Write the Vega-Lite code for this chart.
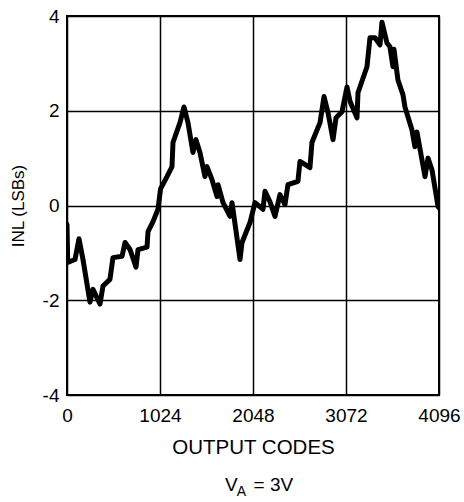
{
  "$schema": "https://vega.github.io/schema/vega-lite/v6.json",
  "width": 372,
  "height": 379,
  "autosize": {"type": "none"},
  "padding": {"left": 67, "top": 16, "right": 25, "bottom": 107},
  "background": "white",
  "config": {
    "font": "Liberation Sans",
    "view": {"stroke": "black", "strokeWidth": 2},
    "axis": {
      "domain": false,
      "ticks": false,
      "grid": true,
      "gridColor": "black",
      "gridWidth": 1.5,
      "gridOpacity": 1,
      "labelFont": "Liberation Sans",
      "labelFontSize": 19,
      "labelColor": "black",
      "titleFont": "Liberation Sans",
      "titleFontWeight": "normal",
      "titleColor": "black"
    }
  },
  "title": {
    "text": "V\u00a0\u00a0\u00a0= 3V",
    "subtitle": "\u200b\u00a0\u00a0\u00a0A",
    "orient": "bottom",
    "anchor": "start",
    "frame": "group",
    "dx": 158,
    "offset": 18,
    "font": "Liberation Sans",
    "fontSize": 19,
    "fontWeight": "normal",
    "color": "black",
    "subtitleFont": "Liberation Sans",
    "subtitleFontSize": 14,
    "subtitleColor": "black",
    "subtitlePadding": -10
  },
  "data": {
    "values": [
      {"code": 0, "inl": -0.4},
      {"code": 8, "inl": -1.2},
      {"code": 88, "inl": -1.14},
      {"code": 132, "inl": -0.7},
      {"code": 176, "inl": -1.14},
      {"code": 253, "inl": -2.04},
      {"code": 286, "inl": -1.77},
      {"code": 363, "inl": -2.08},
      {"code": 396, "inl": -1.7},
      {"code": 473, "inl": -1.56},
      {"code": 506, "inl": -1.1},
      {"code": 606, "inl": -1.07},
      {"code": 639, "inl": -0.78},
      {"code": 694, "inl": -0.93},
      {"code": 760, "inl": -1.3},
      {"code": 782, "inl": -0.93},
      {"code": 881, "inl": -0.88},
      {"code": 892, "inl": -0.55},
      {"code": 947, "inl": -0.34},
      {"code": 1002, "inl": -0.08},
      {"code": 1030, "inl": 0.35},
      {"code": 1101, "inl": 0.61},
      {"code": 1156, "inl": 0.82},
      {"code": 1167, "inl": 1.33},
      {"code": 1244, "inl": 1.75},
      {"code": 1288, "inl": 2.08},
      {"code": 1332, "inl": 1.75},
      {"code": 1387, "inl": 1.12},
      {"code": 1420, "inl": 1.39},
      {"code": 1464, "inl": 1.12},
      {"code": 1519, "inl": 0.61},
      {"code": 1541, "inl": 0.82},
      {"code": 1596, "inl": 0.55},
      {"code": 1652, "inl": 0.19},
      {"code": 1663, "inl": 0.44},
      {"code": 1718, "inl": 0.06},
      {"code": 1795, "inl": -0.23},
      {"code": 1817, "inl": 0.06},
      {"code": 1905, "inl": -1.14},
      {"code": 1927, "inl": -0.78},
      {"code": 2015, "inl": -0.36},
      {"code": 2070, "inl": 0.06},
      {"code": 2158, "inl": -0.08},
      {"code": 2180, "inl": 0.3},
      {"code": 2235, "inl": 0.08},
      {"code": 2290, "inl": -0.23},
      {"code": 2345, "inl": 0.23},
      {"code": 2400, "inl": 0.02},
      {"code": 2433, "inl": 0.44},
      {"code": 2543, "inl": 0.51},
      {"code": 2565, "inl": 0.93},
      {"code": 2675, "inl": 0.8},
      {"code": 2697, "inl": 1.33},
      {"code": 2786, "inl": 1.75},
      {"code": 2830, "inl": 2.3},
      {"code": 2874, "inl": 1.96},
      {"code": 2929, "inl": 1.39},
      {"code": 2962, "inl": 1.85},
      {"code": 3028, "inl": 1.98},
      {"code": 3083, "inl": 2.5},
      {"code": 3116, "inl": 2.2},
      {"code": 3193, "inl": 1.85},
      {"code": 3204, "inl": 2.38},
      {"code": 3303, "inl": 2.93},
      {"code": 3336, "inl": 3.54},
      {"code": 3391, "inl": 3.54},
      {"code": 3446, "inl": 3.39},
      {"code": 3468, "inl": 3.87},
      {"code": 3523, "inl": 3.43},
      {"code": 3556, "inl": 3.35},
      {"code": 3589, "inl": 2.93},
      {"code": 3600, "inl": 3.3},
      {"code": 3644, "inl": 2.65},
      {"code": 3699, "inl": 2.34},
      {"code": 3721, "inl": 2.08},
      {"code": 3798, "inl": 1.6},
      {"code": 3831, "inl": 1.24},
      {"code": 3853, "inl": 1.55},
      {"code": 3942, "inl": 0.61},
      {"code": 3975, "inl": 1.0},
      {"code": 4019, "inl": 0.75},
      {"code": 4085, "inl": -0.02},
      {"code": 4096, "inl": -0.05}
    ]
  },
  "mark": {"type": "line", "color": "black", "strokeWidth": 5, "strokeJoin": "round", "strokeCap": "round", "clip": true},
  "encoding": {
    "x": {
      "field": "code",
      "type": "quantitative",
      "scale": {"domain": [0, 4096], "nice": false, "zero": false},
      "axis": {"values": [0, 1024, 2048, 3072, 4096], "format": "d", "title": "OUTPUT CODES", "titleFontSize": 20.5, "labelPadding": 11, "titlePadding": 12, "labelFlush": false}
    },
    "y": {
      "field": "inl",
      "type": "quantitative",
      "scale": {"domain": [-4, 4], "nice": false},
      "axis": {"values": [-4, -2, 0, 2, 4], "labelExpr": "toString(datum.value)", "title": "INL (LSBs)", "titleFontSize": 17, "labelPadding": 8, "titlePadding": 15, "labelFlush": false}
    }
  }
}
